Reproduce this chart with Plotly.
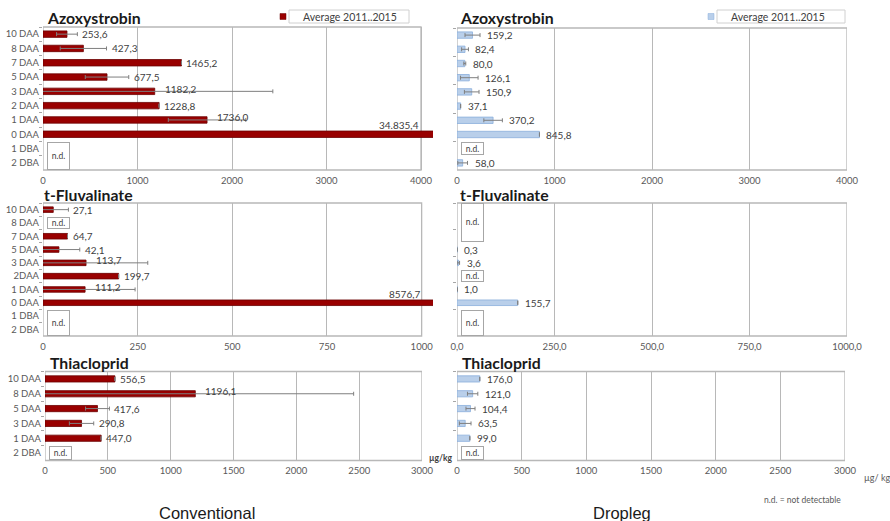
import plotly.graph_objects as go

# ---------------- data ----------------
cats_azoxy = ["10 DAA", "8 DAA", "7 DAA", "5 DAA", "3 DAA", "2 DAA", "1 DAA", "0 DAA", "1 DBA", "2 DBA"]
azoxy_conv = [253.6, 427.3, 1465.2, 677.5, 1182.2, 1228.8, 1736.0, 34835.4, None, None]
azoxy_conv_err = [110, 245, 0, 230, 1250, 0, 410, 0, 0, 0]
azoxy_drop = [159.2, 82.4, 80.0, 126.1, 150.9, 37.1, 370.2, 845.8, None, 58.0]
azoxy_drop_err = [77, 35, 10, 90, 75, 0, 95, 0, 0, 50]

cats_fluv = ["10 DAA", "8 DAA", "7 DAA", "5 DAA", "3 DAA", "2DAA", "1 DAA", "0 DAA", "1 DBA", "2 DBA"]
fluv_conv = [27.1, None, 64.7, 42.1, 113.7, 199.7, 111.2, 8576.7, None, None]
fluv_conv_err = [40, 0, 0, 55, 163, 0, 132, 0, 0, 0]
fluv_drop = [None, None, None, 0.3, 3.6, None, 1.0, 155.7, None, None]
fluv_drop_err = [0, 0, 0, 0, 3, 0, 0, 0, 0, 0]

cats_thia = ["10 DAA", "8 DAA", "5 DAA", "3 DAA", "1 DAA", "2 DBA"]
thia_conv = [556.5, 1196.1, 417.6, 290.8, 447.0, None]
thia_conv_err = [0, 1260, 95, 97, 0, 0]
thia_drop = [176.0, 121.0, 104.4, 63.5, 99.0, None]
thia_drop_err = [0, 40, 35, 45, 0, 0]

azoxy_ticks = [0, 1000, 2000, 3000, 4000]
azoxy_ticktext = ["0", "1000", "2000", "3000", "4000"]
fluv_conv_ticks = [0, 250, 500, 750, 1000]
fluv_conv_ticktext = ["0", "250", "500", "750", "1000"]
fluv_drop_ticks = [0, 250, 500, 750, 1000]
fluv_drop_ticktext = ["0,0", "250,0", "500,0", "750,0", "1000,0"]
thia_ticks = [0, 500, 1000, 1500, 2000, 2500, 3000]
thia_ticktext = ["0", "500", "1000", "1500", "2000", "2500", "3000"]

series_name = "Average 2011..2015"

# ---------------- style ----------------
W, H = 890, 521
RED, RED_EDGE = "#990000", "#6B0000"
BLUE, BLUE_EDGE = "#B9CFEA", "#8AAEDC"
GRID = "#B8B8B8"
ERR = "#7F7F7F"
TXT = "#404040"
TICK = "#595959"
FONT = "Lato"


def fmt(v):
    s = f"{v:.1f}".replace(".", ",")
    if v >= 10000:
        ip, dp = s.split(",")
        ip = f"{int(ip):,}".replace(",", ".")
        s = ip + "," + dp
    return s


panels = [
    dict(cats=cats_azoxy, vals=azoxy_conv, errs=azoxy_conv_err, conv=True,
         xd=(43, 433), yd=(27, 170), rng=4127, frame=4000,
         tv=azoxy_ticks, tt=azoxy_ticktext, title="Azoxystrobin", tp=(45, 18),
         bw=0.45, leg="legend", showleg=True),
    dict(cats=cats_azoxy, vals=azoxy_drop, errs=azoxy_drop_err, conv=False,
         xd=(457, 847), yd=(28, 170), rng=4000, frame=4000,
         tv=azoxy_ticks, tt=azoxy_ticktext, title="Azoxystrobin", tp=(458, 18),
         bw=0.45, leg="legend2", showleg=True),
    dict(cats=cats_fluv, vals=fluv_conv, errs=fluv_conv_err, conv=True,
         xd=(43, 433), yd=(203, 336), rng=1030, frame=1000,
         tv=fluv_conv_ticks, tt=fluv_conv_ticktext, title="t-Fluvalinate", tp=(42, 195),
         bw=0.42, leg="legend", showleg=False),
    dict(cats=cats_fluv, vals=fluv_drop, errs=fluv_drop_err, conv=False,
         xd=(457, 847), yd=(203, 336), rng=1000, frame=1000,
         tv=fluv_drop_ticks, tt=fluv_drop_ticktext, title="t-Fluvalinate", tp=(458, 195),
         bw=0.42, leg="legend2", showleg=False),
    dict(cats=cats_thia, vals=thia_conv, errs=thia_conv_err, conv=True,
         xd=(45, 422), yd=(371.5, 460.5), rng=3000, frame=3000,
         tv=thia_ticks, tt=thia_ticktext, title="Thiacloprid", tp=(48, 362),
         bw=0.42, leg="legend", showleg=False),
    dict(cats=cats_thia, vals=thia_drop, errs=thia_drop_err, conv=False,
         xd=(457, 845), yd=(371.5, 460.5), rng=3000, frame=3000,
         tv=thia_ticks, tt=thia_ticktext, title="Thiacloprid", tp=(460, 362),
         bw=0.42, leg="legend2", showleg=False),
]

fig = go.Figure()
annotations = []
shapes = []
layout_axes = {}

for i, p in enumerate(panels, start=1):
    sx = "" if i == 1 else str(i)
    xr, yr = "x" + sx, "y" + sx
    n = len(p["cats"])
    color = RED if p["conv"] else BLUE
    edge = RED_EDGE if p["conv"] else BLUE_EDGE
    fig.add_trace(go.Bar(
        x=p["vals"], y=p["cats"], orientation="h", width=p["bw"],
        name=series_name, showlegend=False,
        marker=dict(color=color, line=dict(color=edge, width=0.8)),
        error_x=dict(type="data", array=p["errs"], color=ERR, thickness=1, width=2),
        xaxis=xr, yaxis=yr, hoverinfo="skip",
    ))
    if p["showleg"]:
        # legend entry (small square key as in the original)
        fig.add_trace(go.Scatter(
            x=[None], y=[None], mode="markers", name=series_name, legend=p["leg"],
            marker=dict(symbol="square", size=6, color=color, line=dict(color=edge, width=0.5)),
            xaxis=xr, yaxis=yr, hoverinfo="skip", showlegend=True,
        ))
    x0, x1 = p["xd"]
    y0, y1 = p["yd"]
    layout_axes["xaxis" + sx] = dict(
        domain=[x0 / W, x1 / W], anchor=yr, range=[0, p["rng"]], automargin=False,
        tickvals=p["tv"], ticktext=p["tt"], showgrid=True, gridcolor=GRID, gridwidth=1.3,
        zeroline=False, showline=False, ticks="", ticklabelstandoff=3,
        tickfont=dict(size=9.5, color=TICK, family=FONT), fixedrange=True,
    )
    layout_axes["yaxis" + sx] = dict(
        domain=[1 - y1 / H, 1 - y0 / H], anchor=xr, type="category", automargin=False,
        categoryorder="array", categoryarray=p["cats"], range=[n - 0.5, -0.5],
        showgrid=False, zeroline=False, showline=False,
        ticks="outside", tickson="boundaries", ticklen=3, tickcolor="#A6A6A6",
        showticklabels=p["conv"], ticklabelstandoff=3,
        tickfont=dict(size=9.5, color=TICK, family=FONT), fixedrange=True,
    )
    # plot-area frame (ends at last tick; long bars run past it)
    shapes.append(dict(type="rect", xref=xr, yref=yr + " domain", x0=0, x1=p["frame"],
                       y0=0, y1=1, line=dict(color=GRID, width=1.3), layer="below"))
    # panel title
    annotations.append(dict(xref="paper", yref="paper", x=p["tp"][0] / W, y=1 - p["tp"][1] / H,
                            xanchor="left", yanchor="middle", showarrow=False, text="<b>" + p["title"] + "</b>",
                            font=dict(size=15.8, color="#1a1a1a", family=FONT)))
    pxu = (x1 - x0) / p["rng"]
    row_px = (y1 - y0) / n
    # value labels
    for k, (c, v, e) in enumerate(zip(p["cats"], p["vals"], p["errs"])):
        if v is None:
            continue
        a = dict(xref=xr, yref=yr, y=k, showarrow=False, text=fmt(v), yanchor="middle",
                 font=dict(size=10, color=TXT, family=FONT))
        if v > p["frame"]:
            a.update(x=p["frame"], xanchor="right", yshift=9)
        elif e * pxu > 30:
            a.update(x=v, xanchor="left", xshift=8, yshift=2.5)
        else:
            a.update(x=v + e, xanchor="left", xshift=3 if p["conv"] else 5)
        annotations.append(a)
    # n.d. boxes for runs of missing values
    k = 0
    while k < n:
        if p["vals"][k] is None:
            s = k
            while k + 1 < n and p["vals"][k + 1] is None:
                k += 1
            run = k - s + 1
            annotations.append(dict(
                xref=xr, yref=yr, x=0, y=(s + k) / 2, xanchor="left", yanchor="middle",
                xshift=4, showarrow=False, text="n.d.", width=21, height=run * row_px - 3,
                bordercolor="#A6A6A6", borderwidth=1, borderpad=0, bgcolor="white",
                font=dict(size=8.5, color=TXT, family=FONT)))
        k += 1

# legend frames (around the legend text, as in the original)
for bx0, bx1 in [(289, 409), (717, 845)]:
    shapes.append(dict(type="rect", xref="paper", yref="paper", x0=bx0 / W, x1=bx1 / W,
                       y0=1 - 23 / H, y1=1 - 10 / H, line=dict(color="#D0D0D0", width=1),
                       fillcolor="rgba(0,0,0,0)", layer="below"))

# free text
annotations += [
    dict(xref="paper", yref="paper", x=206.5 / W, y=1 - 512.5 / H, xanchor="center", yanchor="middle",
         showarrow=False, text="Conventional", font=dict(size=16.5, color="#1a1a1a", family="Liberation Sans")),
    dict(xref="paper", yref="paper", x=622 / W, y=1 - 512.5 / H, xanchor="center", yanchor="middle",
         showarrow=False, text="Dropleg", font=dict(size=16.5, color="#1a1a1a", family="Liberation Sans")),
    dict(xref="paper", yref="paper", x=762 / W, y=1 - 500 / H, xanchor="left", yanchor="middle",
         showarrow=False, text="n.d. = not detectable", font=dict(size=8.5, color=TICK, family=FONT)),
    dict(xref="paper", yref="paper", x=862 / W, y=1 - 477 / H, xanchor="left", yanchor="middle",
         showarrow=False, text="µg/ kg", font=dict(size=9, color=TICK, family=FONT)),
    dict(xref="paper", yref="paper", x=427 / W, y=1 - 458 / H, xanchor="left", yanchor="middle",
         showarrow=False, text="<b>µg/kg</b>", font=dict(size=8.5, color=TXT, family=FONT)),
]

legend_style = dict(xanchor="left", yanchor="middle", bgcolor="rgba(0,0,0,0)", borderwidth=0,
                    font=dict(size=10.5, color=TXT, family=FONT), itemwidth=30)

fig.update_layout(
    width=W, height=H, margin=dict(l=0, r=0, t=0, b=0, autoexpand=False),
    plot_bgcolor="white", paper_bgcolor="white", separators=",.",
    font=dict(family=FONT, color=TXT),
    annotations=annotations, shapes=shapes,
    legend=dict(x=263 / W, y=1 - 16.5 / H, **legend_style),
    legend2=dict(x=691 / W, y=1 - 16.5 / H, **legend_style),
    **layout_axes,
)

fig.write_html("out.html", config={"displayModeBar": False, "staticPlot": False},
               post_script="document.body.style.margin='0px';")
